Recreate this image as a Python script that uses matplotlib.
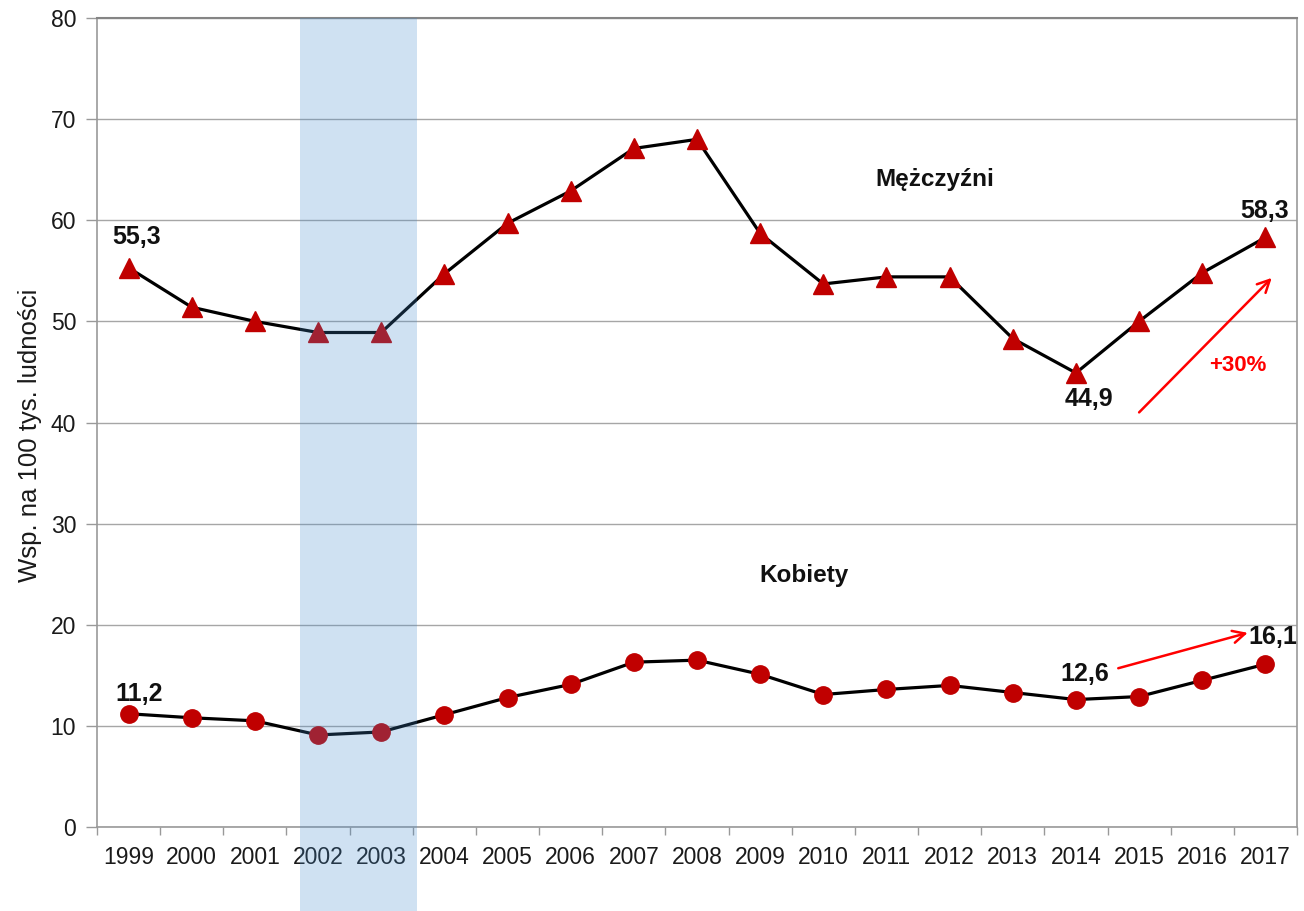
import matplotlib
matplotlib.use("Agg")
import matplotlib.pyplot as plt
from matplotlib.patches import Rectangle
from matplotlib.transforms import blended_transform_factory

plt.rcParams['font.family'] = ['Liberation Sans', 'DejaVu Sans']

years = [str(y) for y in range(1999, 2018)]
men = [55.3, 51.4, 50.0, 48.9, 48.9, 54.7, 59.7, 62.9, 67.1, 68.0,
       58.7, 53.7, 54.4, 54.4, 48.3, 44.9, 50.0, 54.8, 58.3]
women = [11.2, 10.8, 10.5, 9.1, 9.4, 11.1, 12.8, 14.1, 16.3, 16.5,
         15.1, 13.1, 13.6, 14.0, 13.3, 12.6, 12.9, 14.5, 16.1]
yticks = [0, 10, 20, 30, 40, 50, 60, 70, 80]
ylabel = "Wsp. na 100 tys. ludności"

W, H = 1304, 911
fig = plt.figure(figsize=(W / 100, H / 100), dpi=100)
ax = fig.add_axes([97 / W, 1 - 827 / H, 1200 / W, 809 / H])

x = list(range(len(years)))
red = '#C00000'
ax.plot(x, men, color='black', lw=2.3, marker='^', markersize=14,
        markerfacecolor=red, markeredgecolor=red, zorder=3, clip_on=False)
ax.plot(x, women, color='black', lw=2.3, marker='o', markersize=12.5,
        markerfacecolor=red, markeredgecolor=red, zorder=3, clip_on=False)

ax.set_xlim(-0.5, len(years) - 0.5)
ax.set_ylim(0, 80)
ax.set_yticks(yticks)
ax.set_xticks(x)
ax.set_xticklabels(years)
ax.set_xticks([i - 0.5 for i in range(len(years) + 1)], minor=True)
ax.tick_params(axis='x', which='major', length=0, pad=14, labelsize=16.5, colors='#1a1a1a')
ax.tick_params(axis='x', which='minor', length=6, width=1, color='#999999')
ax.tick_params(axis='y', length=8, width=1, color='#999999', pad=7, labelsize=16.5, labelcolor='#1a1a1a')
ax.grid(axis='y', color='#A6A6A6', lw=1, zorder=0)
ax.set_axisbelow(True)
for s in ['left', 'bottom', 'right']:
    ax.spines[s].set_color('#999999')
    ax.spines[s].set_linewidth(1.2)
ax.spines['top'].set_color('#858585')
ax.spines['top'].set_linewidth(1.5)

fig.text(30 / W, 1 - 435 / H, ylabel, rotation=90, ha='center', va='center',
         fontsize=18.5, color='#1a1a1a')

bold = dict(fontsize=18, fontweight='bold', ha='center', va='center', color='#111111')
ax.text(0.12, 58.3, "55,3", **bold)
ax.text(17.98, 60.9, "58,3", **bold)
ax.text(15.2, 42.3, "44,9", **bold)
ax.text(0.16, 13.2, "11,2", **bold)
ax.text(15.14, 15.1, "12,6", **bold)
ax.text(18.12, 18.8, "16,1", clip_on=False, **bold)
names = dict(bold, fontsize=17.5)
ax.text(12.77, 64.0, "Mężczyźni", **names)
ax.text(10.7, 24.9, "Kobiety", **names)
ax.text(17.57, 45.6, "+30%", fontsize=16, fontweight='bold', ha='center',
        va='center', color='#FF0000')

ax.annotate("", xy=(18.1, 54.3), xytext=(16.0, 41.0),
            arrowprops=dict(arrowstyle='->', color='#FF0000', lw=1.8,
                            mutation_scale=22, shrinkA=0, shrinkB=0))
ax.annotate("", xy=(17.72, 19.2), xytext=(15.67, 15.7),
            arrowprops=dict(arrowstyle='->', color='#FF0000', lw=1.8,
                            mutation_scale=22, shrinkA=0, shrinkB=0))

# shaded band for 2002-2003, extending below the axis to the figure bottom
trans = blended_transform_factory(ax.transData, fig.transFigure)
top = 1 - 18 / H
rect = Rectangle((2.71, 0), 4.57 - 2.71, top, transform=trans,
                 facecolor=(67 / 255, 139 / 255, 207 / 255), alpha=0.25,
                 edgecolor='none', zorder=5)
fig.patches.append(rect)

fig.savefig("out.png", dpi=100)
